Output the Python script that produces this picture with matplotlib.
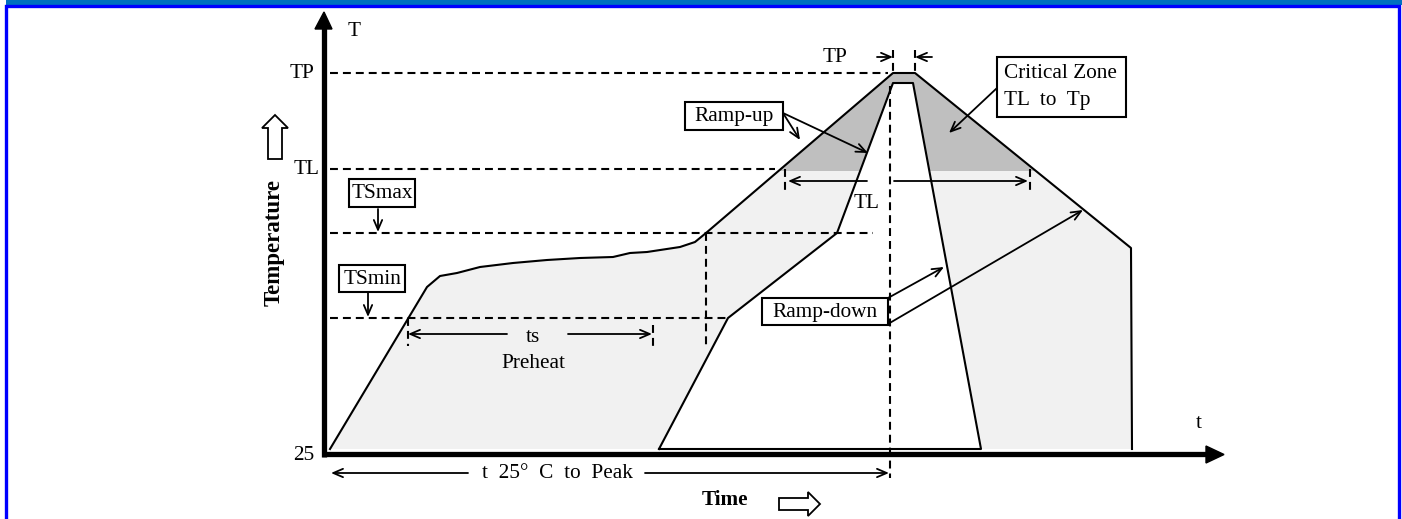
import matplotlib.pyplot as plt
from matplotlib.patches import Polygon, Rectangle
import numpy as np

plt.rcParams['font.family'] = ['Liberation Serif', 'DejaVu Serif']

# Diagram coordinates (time -> x, temperature -> y, drawing units)
outer_t = [330, 427, 440, 457, 480, 513, 547, 580, 613, 630, 647, 680, 695, 706, 893, 915, 1131, 1132]
outer_T = [449, 287, 276, 273, 267, 263, 260, 258, 257, 253, 252, 247, 242, 233, 73, 73, 248, 449]
inner_t = [659, 728, 837, 893, 913, 981]
inner_T = [449, 318, 233, 83, 83, 449]

level_TP = 73
level_TL = 169
level_TSmax = 233
level_TSmin = 318
level_25 = 454

fig = plt.figure(figsize=(14.02, 5.19), dpi=100)
ax = fig.add_axes([0, 0, 1, 1])
ax.set_xlim(0, 1402)
ax.set_ylim(519, 0)
ax.axis('off')

light = '#f1f1f1'
dark = '#bfbfbf'
dash = (0, (3.8, 2.4))

# fills
outer_xy = np.column_stack([outer_t, outer_T])
inner_xy = np.column_stack([inner_t, inner_T])
ax.add_patch(Polygon(outer_xy, closed=True, facecolor=light, edgecolor='none', zorder=1))
crit = Polygon(outer_xy, closed=True, facecolor=dark, edgecolor='none', zorder=2)
ax.add_patch(crit)
clip = Rectangle((0, 0), 1402, level_TL + 2, transform=ax.transData)
crit.set_clip_path(clip)
ax.add_patch(Polygon(inner_xy, closed=True, facecolor='white', edgecolor='none', zorder=3))

# profile outlines
ax.plot(outer_t, outer_T, color='black', lw=1.5, zorder=5)
ax.plot(inner_t + [inner_t[0]], inner_T + [inner_T[0]], color='black', lw=1.5, zorder=5)

# dashed guide lines
ax.plot([330, 888], [level_TP, level_TP], color='black', lw=1.5, ls=dash, zorder=4)
ax.plot([330, 775], [level_TL, level_TL], color='black', lw=1.5, ls=dash, zorder=4)
ax.plot([330, 873], [level_TSmax, level_TSmax], color='black', lw=1.5, ls=dash, zorder=4)
ax.plot([330, 728], [level_TSmin, level_TSmin], color='black', lw=1.5, ls=dash, zorder=4)
ax.plot([706, 706], [level_TSmax, 348], color='black', lw=1.5, ls=dash, zorder=4)
ax.plot([890, 890], [86, 478], color='black', lw=1.5, ls=dash, zorder=4)
ax.plot([408, 408], [level_TSmin, 346], color='black', lw=1.5, ls=dash, zorder=4)
ax.plot([653, 653], [325, 346], color='black', lw=1.5, ls=dash, zorder=4)
ax.plot([785, 785], [level_TL, 191], color='black', lw=1.5, ls=dash, zorder=4)
ax.plot([1030, 1030], [level_TL, 191], color='black', lw=1.5, ls=dash, zorder=4)
ax.plot([893, 893], [50, level_TP], color='black', lw=1.5, ls=dash, zorder=4)
ax.plot([915, 915], [50, level_TP], color='black', lw=1.5, ls=dash, zorder=4)

# axes
ax.plot([324, 324], [457, 28], color='black', lw=3.8, solid_capstyle='butt', zorder=6)
ax.plot([322, 1208], [level_25, level_25], color='black', lw=3.8, solid_capstyle='butt', zorder=6)
ax.add_patch(Polygon([[315, 29], [332, 29], [324, 12]], closed=True, color='black', zorder=6))
ax.add_patch(Polygon([[1206, 446], [1206, 463], [1224, 454.5]], closed=True, color='black', zorder=6))


def arrow(x0, y0, x1, y1):
    ax.annotate('', xy=(x1, y1), xytext=(x0, y0),
                arrowprops=dict(arrowstyle='->,head_length=0.7,head_width=0.3',
                                color='black', lw=1.3, shrinkA=0, shrinkB=0),
                zorder=7)


# dimension arrows
arrow(507, 334, 408, 334)
arrow(568, 334, 652, 334)
arrow(867, 181, 788, 181)
arrow(894, 181, 1028, 181)
arrow(877, 57, 893, 57)
arrow(932, 57, 915, 57)
arrow(468, 473, 331, 473)
arrow(645, 473, 889, 473)
arrow(378, 209, 378, 232)
arrow(368, 292, 368, 317)
arrow(783, 113, 800, 140)
arrow(783, 113, 868, 153)
arrow(997, 88, 949, 133)
arrow(888, 298, 944, 267)
arrow(888, 324, 1083, 210)

# label boxes
boxes = [(349, 179, 66, 28), (339, 265, 66, 27), (685, 102, 98, 28),
         (997, 57, 129, 60), (762, 298, 126, 27)]
for bx, by, bw, bh in boxes:
    ax.add_patch(Rectangle((bx, by), bw, bh, facecolor='white', edgecolor='black',
                           lw=1.5, zorder=8))

fs = 15.3
ax.text(382, 194, 'TSmax', fontsize=fs, ha='center', va='center', zorder=9)
ax.text(372, 279, 'TSmin', fontsize=fs, ha='center', va='center', zorder=9)
ax.text(734, 117, 'Ramp-up', fontsize=fs, ha='center', va='center', zorder=9)
ax.text(1004, 73, 'Critical Zone', fontsize=fs, ha='left', va='center', zorder=9)
ax.text(1004, 101, 'TL  to  Tp', fontsize=fs, ha='left', va='center', zorder=9)
ax.text(825, 312, 'Ramp-down', fontsize=fs, ha='center', va='center', zorder=9)

ax.text(354, 32, 'T', fontsize=fs, ha='center', va='center')
ax.text(314, 74, 'TP', fontsize=fs, ha='right', va='center')
ax.text(319, 170, 'TL', fontsize=fs, ha='right', va='center')
ax.text(314, 455, '25', fontsize=fs, ha='right', va='center')
ax.text(533, 337, 'ts', fontsize=fs, ha='center', va='center', zorder=9)
ax.text(533, 363, 'Preheat', fontsize=fs, ha='center', va='center', zorder=9)
ax.text(866, 203, 'TL', fontsize=fs, ha='center', va='center', zorder=9)
ax.text(835, 57, 'TP', fontsize=fs, ha='center', va='center', zorder=9)
ax.text(1199, 423, 't', fontsize=fs, ha='center', va='center')
ax.text(557, 473, 't  25°  C  to  Peak', fontsize=fs, ha='center', va='center')
ax.text(725, 500, 'Time', fontsize=fs, fontweight='bold', ha='center', va='center')
ax.text(274, 242, 'Temperature', fontsize=16.5, fontweight='bold', rotation=90,
        ha='center', va='center')

# hollow direction arrows
ax.add_patch(Polygon([[268, 159], [282, 159], [282, 128], [288, 128], [275, 115],
                      [262, 128], [268, 128]], closed=True, facecolor='white',
                     edgecolor='black', lw=1.3))
ax.add_patch(Polygon([[779, 498], [808, 498], [808, 492], [820, 504], [808, 516],
                      [808, 510], [779, 510]], closed=True, facecolor='white',
                     edgecolor='black', lw=1.3))

# frame
ax.add_patch(Rectangle((6, 0), 1396, 5, facecolor='#0070c0', edgecolor='none', zorder=10))
ax.plot([5.5, 5.5, 1398.5, 1398.5], [519, 6, 6, 519], color='#0000ff', lw=2.4,
        solid_joinstyle='miter', zorder=10)

fig.savefig('out.png', dpi=100)
